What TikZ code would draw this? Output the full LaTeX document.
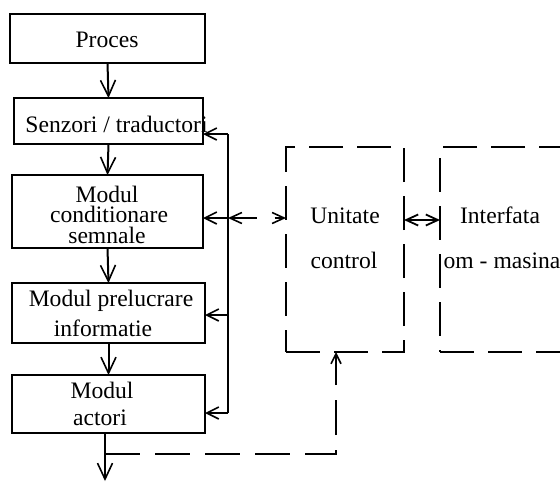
\documentclass[tikz,border=0pt]{standalone}
\usepackage{fontspec}
\setmainfont{Liberation Serif}
\usetikzlibrary{arrows.meta}

\tikzset{
  box/.style={draw, line width=1pt, inner sep=0pt, outer sep=0pt},
  dbox/.style={draw, line width=0.7pt, dash pattern=on 17pt off 7pt, inner sep=0pt, outer sep=0pt},
  txt/.style={inner sep=0pt, anchor=base, font=\fontsize{11.8}{14}\selectfont},
  flow/.style={line width=1pt, -{Straight Barb[length=8pt,width=7.5pt,line width=0.8pt]}},
  feed/.style={line width=1pt, -{Straight Barb[length=6pt,width=6pt,line width=0.8pt]}},
  dlink/.style={line width=0.7pt, dash pattern=on 13pt off 9pt,
    {Straight Barb[length=6pt,width=5.5pt,line width=0.8pt]}-{Straight Barb[length=6pt,width=5.5pt,line width=0.8pt]}},
  dfeed/.style={line width=0.7pt, dash pattern=on 17.5pt off 7.5pt,
    -{Straight Barb[length=5pt,width=5pt,line width=0.8pt]}},
  slink/.style={line width=1.2pt,
    {Straight Barb[length=6pt,width=5.5pt,line width=0.9pt]}-{Straight Barb[length=6pt,width=5.5pt,line width=0.9pt]}},
}

\begin{document}
\begin{tikzpicture}[x=0.5pt, y=-0.5pt]
  \useasboundingbox (0,0) rectangle (560,482);
  \fill[white] (0,0) rectangle (560,482);
  \clip (0,0) rectangle (560,482);

  % processing chain
  \node[box, minimum width=97.5pt, minimum height=24.5pt] (proces) at (107.5,38.5) {};
  \node[box, minimum width=94.5pt, minimum height=23pt]   (senz)   at (108.5,121) {};
  \node[box, minimum width=95.5pt, minimum height=36.5pt] (cond)   at (107.5,211.5) {};
  \node[box, minimum width=96.5pt, minimum height=30pt]   (prel)   at (108.5,313) {};
  \node[box, minimum width=96.5pt, minimum height=29pt]   (actori) at (108.5,404) {};

  % control unit and operator interface
  \node[dbox, minimum width=59pt, minimum height=102.5pt] (unit)  at (345,249.5) {};
  \node[dbox, minimum width=90pt, minimum height=102.5pt] (inter) at (530,249.5) {};

  % labels
  \node[txt] (tProces) at (107,47) {Proces};
  \node[txt, anchor=base west] (tSenz) at (25,132) {Senzori / traductori};
  \node[txt] (tCondA) at (107,202) {Modul};
  \node[txt] (tCondB) at (109,222.5) {conditionare};
  \node[txt] (tCondC) at (107,243) {semnale};
  \node[txt] (tPrelA) at (111,306) {Modul prelucrare};
  \node[txt] (tPrelB) at (103,336) {informatie};
  \node[txt] (tActA)  at (102,398) {Modul};
  \node[txt] (tActB)  at (100,425) {actori};
  \node[txt] (tUnitA) at (345,223) {Unitate};
  \node[txt] (tUnitB) at (344,268) {control};
  \node[txt] (tIntA)  at (500,223) {Interfata};
  \node[txt] (tIntB)  at (502,268) {om - masina};

  % main signal flow
  \draw[flow] (proces.south) -- (senz.north);
  \draw[flow] (senz.south) -- (cond.north);
  \draw[flow] (cond.south) -- (prel.north);
  \draw[flow] (prel.south) -- (actori.north);
  \coordinate (out) at (105,481);
  \draw[flow] (actori.south -| out) -- (out);

  % feedback bus
  \coordinate (busT) at (228,134);
  \coordinate (busM) at (228,218);
  \coordinate (busP) at (228,315);
  \coordinate (busB) at (228,413);
  \draw[line width=1pt] (busT) -- (busB);
  \draw[feed] (busT) -- (busT -| senz.east);
  \draw[feed] (busM) -- (busM -| cond.east);
  \draw[feed] (busP) -- (busP -| prel.east);
  \draw[feed] (busB) -- (busB -| actori.east);

  % links to the control unit
  \draw[dlink] (busM) -- (busM -| unit.west);
  \coordinate (ui) at (404,220);
  \draw[slink] (ui) -- (ui -| inter.west);

  % actuator feedback to the control unit
  \coordinate (tap) at (105,454);
  \coordinate (fbk) at (336,454);
  \draw[dfeed] (tap) -- (fbk) -- (fbk |- unit.south);
\end{tikzpicture}
\end{document}
